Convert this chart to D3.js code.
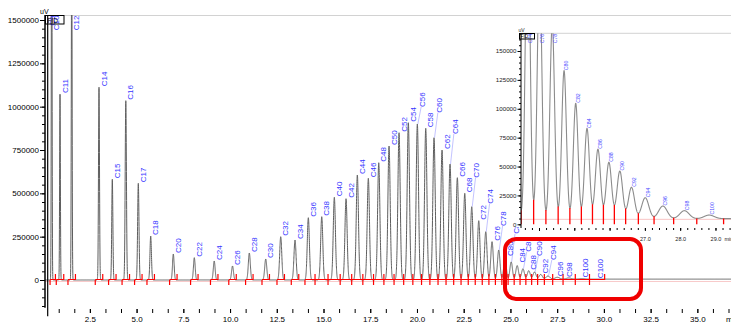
<!DOCTYPE html>
<html>
<head>
<meta charset="utf-8">
<script src="https://cdn.jsdelivr.net/npm/d3@7/dist/d3.min.js"></script>
<style>
  html, body { margin: 0; padding: 0; background: #fff; overflow: hidden; }
  svg { display: block; font-family: "Liberation Sans", Arial, sans-serif; }
</style>
</head>
<body>
<svg id="chart" width="731" height="326"></svg>
<script>
// ---- FID chromatogram: n-alkane peaks (retention time / min, apex signal / uV) ----
const peakNames = ["C10","C11","C12","C14","C15","C16","C17","C18","C20","C22","C24","C26","C28","C30",
  "C32","C34","C36","C38","C40","C42","C44","C46","C48","C50","C52","C54","C56","C58","C60","C62","C64",
  "C66","C68","C70","C72","C74","C76","C78","C80","C82","C84","C86","C88","C90","C92","C94","C96","C98",
  "C100","C100"];
const peakTimes = [0.458,0.903,1.529,2.989,3.701,4.423,5.092,5.755,6.965,8.088,9.153,10.132,11.031,11.909,
  12.711,13.476,14.188,14.905,15.579,16.205,16.810,17.398,17.955,18.506,19.041,19.538,20.020,20.469,20.913,
  21.341,21.769,22.160,22.556,22.930,23.305,23.680,24.016,24.375,24.71,25.04,25.36,25.67,25.98,26.29,26.62,
  27.01,27.51,28.12,28.82,29.64];
const peakHeights = [2500000,1073000,2000000,1111700,581000,1034400,557900,253800,150000,128700,109600,80800,
  155800,121200,249800,230800,359400,365200,477100,469000,605800,586700,676700,773100,849800,907500,900000,
  875200,821000,750000,669200,590200,500200,422900,342100,278700,221000,173100,133000,104700,83000,65000,
  53700,46100,32000,23000,15800,11800,8000,5000];

// solvent front (off-scale in both directions)
const solventName = "C9";
const solventTime = 0.244;

// first peak of the continuously integrated cluster
const clusterStart = "C36";

// peak width (gaussian sigma, min) against retention time
const widthT = [0, 2, 6, 12, 20, 25, 26.5, 27.5, 29, 37];
const widthS = [0.018, 0.022, 0.04, 0.055, 0.062, 0.067, 0.082, 0.122, 0.145, 0.15];

// baseline drift (uV) against retention time
const baseT = [0, 22, 25, 27, 30, 37];
const baseV = [0, 1000, 3000, 4500, 5000, 5000];

// axis ticks
const mainYTicks = [0, 250000, 500000, 750000, 1000000, 1250000, 1500000];
const mainXTicks = [2.5, 5, 7.5, 10, 12.5, 15, 17.5, 20, 22.5, 25, 27.5, 30, 32.5, 35];
const insetYTicks = [0, 25000, 50000, 75000, 100000, 125000, 150000];
const insetXTicks = [24, 25, 26, 27, 28, 29];

// label placement tweaks for crowded labels (px)
const labelLift = { C56: 16, C60: 24, C64: 29, C70: 28, C74: 27, C78: 23, C82: 27, C84: 2, C86: 16, C90: 15, C94: 15 };
const labelDx = { C96: 2.7, C98: 0.6, C100: 3.4 };

// ---------------------------------------------------------------------------
const svg = d3.select("#chart");
const BLUE = "#3636ff";
const RED = "#ff0000";

const sigmaAt = d3.scaleLinear().domain(widthT).range(widthS).clamp(true);
const baseAt = d3.scaleLinear().domain(baseT).range(baseV).clamp(true);

const peaks = peakNames.map((name, i) => ({ name, t: peakTimes[i], h: peakHeights[i] }));
peaks.forEach(p => { p.s = sigmaAt(p.t); p.a = p.h - baseAt(p.t); });

function signal(t) {
  let v = baseAt(t);
  for (const p of peaks) {
    const d = (t - p.t) / p.s;
    if (d * d < 80) v += p.a * Math.exp(-0.5 * d * d);
  }
  return v;
}

// ---------------- main chromatogram ----------------
const M = { left: 45, right: 731, top: 15 };
const xMain = d3.scaleLinear().domain([0.1, 36.8]).range([M.left, M.right]);
const yMain = d3.scaleLinear().domain([0, 1500000]).range([280, 20]);
const mainBottom = yMain(-210000);

svg.append("defs").append("clipPath").attr("id", "clipMain")
  .append("rect").attr("x", M.left).attr("y", M.top)
  .attr("width", M.right - M.left).attr("height", mainBottom - M.top);

// frame top line
svg.append("line").attr("x1", M.left).attr("x2", M.right).attr("y1", M.top + 0.5).attr("y2", M.top + 0.5)
  .attr("stroke", "#d2d2d2").attr("stroke-width", 1);

const gMain = svg.append("g").attr("clip-path", "url(#clipMain)");

// faint integration baseline
gMain.append("line").attr("x1", M.left).attr("x2", M.right)
  .attr("y1", yMain(0) + 1.5).attr("y2", yMain(0) + 1.5)
  .attr("stroke", "#f8caca").attr("stroke-width", 1);

// trace
const mainSamples = d3.range(0.1, 36.8, 0.003);
gMain.append("path")
  .datum(mainSamples)
  .attr("fill", "none")
  .attr("stroke", "#5e5e5e")
  .attr("stroke-width", 1)
  .attr("stroke-linejoin", "round")
  .attr("d", d3.line().x(t => xMain(t)).y(t => yMain(signal(t))));

// solvent spike
gMain.append("line")
  .attr("x1", xMain(solventTime)).attr("x2", xMain(solventTime))
  .attr("y1", M.top).attr("y2", mainBottom)
  .attr("stroke", "#000").attr("stroke-width", 1.2);

// integration markers
const y0 = yMain(0);
const cIdx = peaks.findIndex(p => p.name === clusterStart);
const redG = gMain.append("g").attr("stroke", RED).attr("stroke-width", 1.2);
function hseg(a, b) {
  redG.append("line").attr("x1", xMain(a)).attr("x2", xMain(b)).attr("y1", y0 - 0.5).attr("y2", y0 - 0.5);
}
function vtick(t, up, down) {
  redG.append("line").attr("x1", xMain(t)).attr("x2", xMain(t)).attr("y1", y0 - up).attr("y2", y0 + down);
}
const allTimes = [solventTime].concat(peaks.map(p => p.t));
for (let i = 0; i < cIdx; i++) {
  const k = i + 1;
  const prev = allTimes[k - 1], next = allTimes[k + 1];
  const s = Math.max(peaks[i].t - 0.2, (prev + peaks[i].t) / 2 + 0.02);
  const e = Math.min(peaks[i].t + 0.2, (next + peaks[i].t) / 2 - 0.02);
  hseg(s, e); vtick(s, 0, 5); vtick(e, 6, 0);
}
{
  const cl = peaks.slice(cIdx);
  const s = cl[0].t - 0.18;
  const e = cl[cl.length - 1].t + 0.4;
  hseg(s, e); vtick(s, 0, 5); vtick(e, 6, 0);
  for (let i = 0; i < cl.length - 1; i++) vtick((cl[i].t + cl[i + 1].t) / 2, 6, 5);
}

// peak labels
const labG = svg.append("g");
function placeLabel(g, name, t, h, opts) {
  const px = opts.x(t);
  const apexY = opts.y(h);
  const txt = g.append("text")
    .attr("font-size", opts.size)
    .attr("fill", opts.color)
    .attr("dy", "0.35em")
    .text(name);
  const len = txt.node().getComputedTextLength();
  const lift = opts.lift || 0;
  let bottom = apexY - opts.gap - lift;
  bottom = Math.max(bottom, opts.top + len + 0.5);
  const lx = px + (opts.dx);
  txt.attr("transform", `translate(${lx},${bottom}) rotate(-90)`);
  if (lift > 5) {
    g.insert("line", "text")
      .attr("x1", px + 0.5).attr("y1", apexY)
      .attr("x2", lx - 1).attr("y2", bottom)
      .attr("stroke", "#b4b4ff").attr("stroke-width", 0.8);
  }
}
placeLabel(labG, solventName, solventTime, 3e6,
  { x: xMain, y: yMain, size: 8, color: BLUE, dx: 4, gap: 1, top: M.top });
peaks.forEach(p => {
  placeLabel(labG, p.name, p.t, p.h, {
    x: xMain, y: yMain, size: 8, color: BLUE,
    dx: labelDx[p.name] !== undefined ? labelDx[p.name] : 4.8,
    gap: 1, lift: labelLift[p.name] || 0, top: M.top
  });
});

// y axis
svg.append("line").attr("x1", M.left).attr("x2", M.left)
  .attr("y1", M.top).attr("y2", yMain(-160000))
  .attr("stroke", "#000").attr("stroke-width", 1.5);
const yMinor = svg.append("g").attr("transform", `translate(${M.left},0)`)
  .call(d3.axisLeft(yMain).tickValues(d3.range(-150000, 1500001, 50000)).tickSize(3).tickFormat(""));
const yMajor = svg.append("g").attr("transform", `translate(${M.left},0)`)
  .call(d3.axisLeft(yMain).tickValues(mainYTicks).tickSize(5).tickPadding(1).tickFormat(d3.format("d")));
[yMinor, yMajor].forEach(g => {
  g.select(".domain").remove();
  g.selectAll("line").attr("stroke", "#000");
  g.selectAll("text").attr("font-size", 8).attr("fill", "#000")
    .attr("font-family", "'Liberation Sans', Arial, sans-serif");
});
svg.append("text").attr("x", 40).attr("y", 13.5).attr("font-size", 7).attr("fill", "#000").text("uV");

// x axis (ticks only)
const xAxisY = 309;
const minorX = d3.range(0, 37, 2.5 / 3).filter(t => t >= 0.1 && t <= 36.8);
const xG = svg.append("g").attr("transform", `translate(0,${xAxisY})`)
  .call(d3.axisBottom(xMain).tickValues(minorX).tickSize(4).tickFormat(""));
const xL = svg.append("g").attr("transform", `translate(0,${xAxisY})`)
  .call(d3.axisBottom(xMain).tickValues(mainXTicks).tickSize(4).tickFormat(d3.format(".1f")));
[xG, xL].forEach(g => {
  g.select(".domain").remove();
  g.selectAll("line").attr("stroke", "#000");
  g.selectAll("text").attr("font-size", 8).attr("fill", "#000")
    .attr("font-family", "'Liberation Sans', Arial, sans-serif");
});
svg.append("text").attr("x", 726).attr("y", 321.5).attr("font-size", 8).attr("fill", "#000").text("min");

// detector tag
svg.append("rect").attr("x", 45.5).attr("y", 15.5).attr("width", 18.5).attr("height", 8.5)
  .attr("fill", "none").attr("stroke", "#000").attr("stroke-width", 1);
svg.append("text").attr("x", 47.5).attr("y", 22.5).attr("font-size", 6.5).attr("fill", "#000").text("FID");

// ---------------- inset: enlarged tail ----------------
const I = { left: 521, right: 731, top: 33.3, bottom: 228 };
const xIn = d3.scaleLinear().domain([23.49, 29.44]).range([I.left, I.right]);
const yIn = d3.scaleLinear().domain([0, 150000]).range([224.3, 51]);

svg.append("rect").attr("x", 508).attr("y", 16).attr("width", 731 - 508).attr("height", 227 - 16)
  .attr("fill", "#fff");
svg.append("line").attr("x1", I.left).attr("x2", I.right).attr("y1", I.top).attr("y2", I.top)
  .attr("stroke", "#d2d2d2").attr("stroke-width", 1);

svg.select("defs").append("clipPath").attr("id", "clipInset")
  .append("rect").attr("x", I.left).attr("y", I.top)
  .attr("width", I.right - I.left).attr("height", I.bottom - I.top);
const gIn = svg.append("g").attr("clip-path", "url(#clipInset)");

const [d0, d1] = xIn.domain();
gIn.append("line").attr("x1", I.left).attr("x2", I.right)
  .attr("y1", yIn(4300)).attr("y2", yIn(4300))
  .attr("stroke", "#f8c4c4").attr("stroke-width", 1);

gIn.append("path")
  .datum(d3.range(d0, d1, 0.003))
  .attr("fill", "none")
  .attr("stroke", "#8c8c8c")
  .attr("stroke-width", 1.1)
  .attr("d", d3.line().x(t => xIn(t)).y(t => yIn(signal(t))));

// integration drop lines at the valleys
const inCluster = peaks.slice(cIdx);
const dropTimes = [];
for (let i = 0; i < inCluster.length - 1; i++) dropTimes.push((inCluster[i].t + inCluster[i + 1].t) / 2);
dropTimes.push(inCluster[inCluster.length - 1].t + 0.4);
gIn.append("g").selectAll("line")
  .data(dropTimes.filter(t => t >= d0 && t <= d1))
  .join("line")
  .attr("x1", t => xIn(t)).attr("x2", t => xIn(t))
  .attr("y1", t => yIn(signal(t))).attr("y2", yIn(0))
  .attr("stroke", RED).attr("stroke-width", 1.3);

// inset labels
const inLab = svg.append("g");
peaks.filter(p => p.t >= d0 + 0.05 && p.t <= d1 - 0.05).forEach(p => {
  placeLabel(inLab, p.name, p.t, p.h, {
    x: xIn, y: yIn, size: 5.2, color: "#4a4aff", dx: 2.6, gap: 0.5, top: I.top
  });
});

// inset axes
svg.append("line").attr("x1", I.left).attr("x2", I.left).attr("y1", I.top).attr("y2", I.bottom)
  .attr("stroke", "#000").attr("stroke-width", 1);
const iyMinor = svg.append("g").attr("transform", `translate(${I.left},0)`)
  .call(d3.axisLeft(yIn).tickValues(d3.range(0, 165001, 5000)).tickSize(2).tickFormat(""));
const iyMajor = svg.append("g").attr("transform", `translate(${I.left},0)`)
  .call(d3.axisLeft(yIn).tickValues(insetYTicks).tickSize(3.5).tickPadding(1).tickFormat(d3.format("d")));
const ixMinor = svg.append("g").attr("transform", `translate(0,${I.bottom})`)
  .call(d3.axisBottom(xIn).tickValues(d3.range(23.6, 29.44, 0.2)).tickSize(2).tickFormat(""));
const ixMajor = svg.append("g").attr("transform", `translate(0,${I.bottom})`)
  .call(d3.axisBottom(xIn).tickValues(insetXTicks).tickSize(3).tickPadding(6.4).tickFormat(d3.format(".1f")));
[iyMinor, iyMajor, ixMinor, ixMajor].forEach(g => {
  g.select(".domain").remove();
  g.selectAll("line").attr("stroke", "#000");
  g.selectAll("text").attr("fill", "#222")
    .attr("font-family", "'Liberation Sans', Arial, sans-serif");
});
iyMajor.selectAll("text").attr("font-size", 6.2);
ixMajor.selectAll("text").attr("font-size", 5.5);
svg.append("text").attr("x", 724.5).attr("y", 241.3).attr("font-size", 5.5).attr("fill", "#222").text("min");
svg.append("text").attr("x", 518.5).attr("y", 31.5).attr("font-size", 5).attr("fill", "#222").text("uV");
svg.append("rect").attr("x", 519.5).attr("y", 33.5).attr("width", 15).attr("height", 5.5)
  .attr("fill", "none").attr("stroke", "#000").attr("stroke-width", 1);
svg.append("text").attr("x", 520.5).attr("y", 38.3).attr("font-size", 4.8).attr("fill", "#000").text("FID");

// highlight of the enlarged region
svg.append("rect")
  .attr("x", 505).attr("y", 239).attr("width", 136).attr("height", 60)
  .attr("rx", 11).attr("ry", 11)
  .attr("fill", "none").attr("stroke", "#f00000").attr("stroke-width", 4);
</script>
</body>
</html>
